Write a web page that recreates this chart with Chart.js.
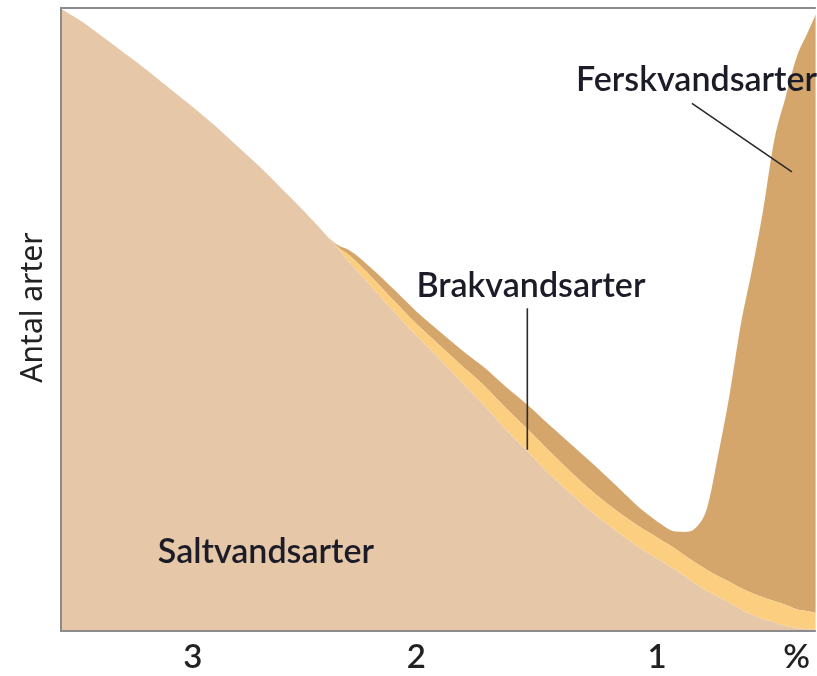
<!DOCTYPE html>
<html><head><meta charset="utf-8">
<script src="https://cdn.jsdelivr.net/npm/chart.js@4"></script>
<style>html,body{margin:0;padding:0;background:#fff;overflow:hidden}</style>
</head><body>
<canvas id="c" width="817" height="676"></canvas>
<script>
// Salinity (%) along the x axis, decreasing to the right
const salinity = [3.59, 3.5, 3.4, 3.3, 3.2, 3.1, 3.0, 2.9, 2.8, 2.7, 2.6, 2.5, 2.4, 2.35,
  2.3, 2.2, 2.1, 2.0, 1.9, 1.8, 1.7, 1.6, 1.5, 1.4, 1.3, 1.2, 1.1, 1.0,
  0.95, 0.9, 0.85, 0.8, 0.75, 0.7, 0.65, 0.6, 0.55, 0.5, 0.45, 0.4, 0.35, 0.3, 0.25, 0.214];
// Relative number of species (stacked)
const saltvandsarter = [99.9, 97.9, 95.3, 92.6, 89.9, 87.0, 84.1, 81.1, 77.8, 74.5, 70.9, 67.3, 63.4, 61.3,
  59.2, 55.2, 51.2, 47.4, 43.8, 40.0, 36.3, 32.3, 28.7, 25.0, 21.7, 18.6, 15.9, 13.3,
  12.2, 11.1, 10.0, 8.8, 7.5, 6.4, 5.5, 4.5, 3.5, 2.6, 1.9, 1.4, 0.8, 0.5, 0.3, 0.3];
const brakvandsarter = [0, 0, 0, 0, 0, 0, 0, 0, 0, 0, 0, 0, 0, 0.3,
  1.1, 1.6, 1.8, 1.9, 2.2, 2.7, 3.2, 3.5, 3.6, 3.7, 3.5, 3.4, 3.3, 3.4,
  3.4, 3.4, 3.4, 3.3, 3.4, 3.4, 3.3, 3.4, 3.4, 3.5, 3.5, 3.4, 3.4, 3.0, 2.9, 2.6];
const ferskvandsarter = [0, 0, 0, 0, 0, 0, 0, 0, 0, 0, 0, 0, 0, 0.3,
  0.8, 1.4, 1.8, 2.0, 2.2, 2.5, 2.9, 3.4, 3.9, 4.2, 4.5, 4.5, 3.9, 3.0,
  2.7, 2.5, 2.6, 3.8, 5.7, 10.0, 19.6, 30.0, 42.2, 51.8, 62.1, 74.0, 81.4, 88.6, 92.9, 96.1];
const seriesNames = ['Saltvandsarter', 'Brakvandsarter', 'Ferskvandsarter'];
const tickPositions = [3, 2, 0.924, 0.3];
const tickLabels = ['3', '2', '1', '%'];
const yAxisTitle = 'Antal arter';

// annotation anchors in data units
const labelAnchors = [
  {text: 'Ferskvandsarter', x: 1.286, y: 88.4},
  {text: 'Brakvandsarter', x: 2.0, y: 55.4},
  {text: 'Saltvandsarter', x: 3.156, y: 12.7}
];
const pointers = [
  {x1: 0.768, y1: 84.7, x2: 0.321, y2: 73.7},
  {x1: 1.504, y1: 51.8, x2: 1.504, y2: 29.1}
];

const colors = ['#E6C8A9', '#FCCE7F', '#D5A66C'];
const seriesData = [saltvandsarter, brakvandsarter, ferskvandsarter];
const labelFont = '600 34px Lato';

const overlay = {
  id: 'overlay',
  afterDatasetsDraw(chart) {
    const {ctx, chartArea: a, scales: {x, y}} = chart;
    ctx.save();
    ctx.strokeStyle = '#8c8c8c';
    ctx.lineWidth = 2;
    ctx.beginPath();
    ctx.moveTo(a.right, a.top);
    ctx.lineTo(a.left, a.top);
    ctx.lineTo(a.left, a.bottom);
    ctx.lineTo(a.right, a.bottom);
    ctx.stroke();
    ctx.strokeStyle = '#2a2a2a';
    ctx.lineWidth = 1.6;
    pointers.forEach(p => {
      ctx.beginPath();
      ctx.moveTo(x.getPixelForValue(p.x1), y.getPixelForValue(p.y1));
      ctx.lineTo(x.getPixelForValue(p.x2), y.getPixelForValue(p.y2));
      ctx.stroke();
    });
    ctx.fillStyle = '#1c1c28';
    ctx.font = labelFont;
    ctx.textAlign = 'left';
    ctx.textBaseline = 'middle';
    labelAnchors.forEach(l => ctx.fillText(l.text, x.getPixelForValue(l.x), y.getPixelForValue(l.y)));
    // y axis title
    ctx.translate(y.left + 33, (a.top + a.bottom) / 2 - 12);
    ctx.rotate(-Math.PI / 2);
    ctx.font = '30px "Noto Sans"';
    ctx.fillStyle = '#222';
    ctx.textAlign = 'center';
    ctx.fillText(yAxisTitle, 0, 0);
    ctx.restore();
  }
};

new Chart(document.getElementById('c'), {
  type: 'line',
  data: {
    datasets: seriesData.map((d, i) => ({
      label: seriesNames[i],
      data: salinity.map((s, j) => ({x: s, y: d[j]})),
      backgroundColor: colors[i],
      borderColor: colors[i],
      borderWidth: 0,
      pointRadius: 0,
      fill: i === 0 ? 'origin' : '-1',
      cubicInterpolationMode: 'monotone'
    }))
  },
  options: {
    responsive: false,
    animation: false,
    layout: {padding: {top: 8, right: 0, bottom: 0, left: 0}},
    plugins: {legend: {display: false}, tooltip: {enabled: false}},
    scales: {
      x: {
        type: 'linear', reverse: true, min: 0.214, max: 3.589,
        grid: {display: false, drawTicks: false},
        border: {display: false},
        afterBuildTicks: s => { s.ticks = tickPositions.map(v => ({value: v})); },
        afterFit: s => { s.height = 45; },
        ticks: {
          callback: (v, i) => tickLabels[i],
          font: {family: 'Lato', size: 33, weight: '600'},
          color: '#222',
          padding: 7,
          autoSkip: false,
          maxRotation: 0
        }
      },
      y: {
        stacked: true, min: 0, max: 100,
        ticks: {display: false},
        grid: {display: false, drawTicks: false},
        border: {display: false},
        afterFit: s => { s.width = 61; }
      }
    }
  },
  plugins: [overlay]
});
</script>
</body></html>
